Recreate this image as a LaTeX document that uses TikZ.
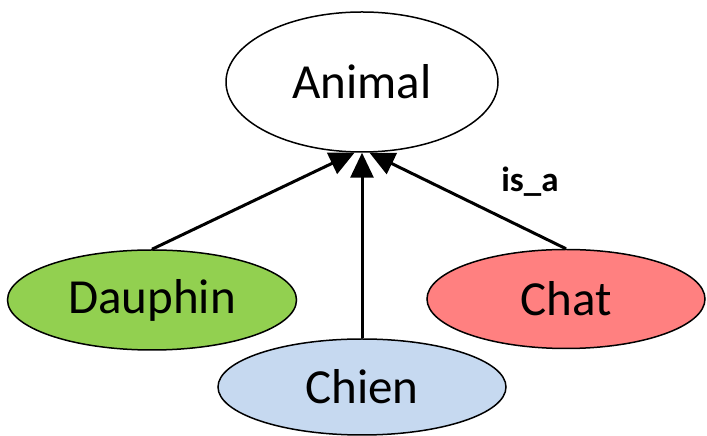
\documentclass[tikz,border=0pt]{standalone}
\usepackage{fontspec}
\setmainfont{Carlito}
\usetikzlibrary{shapes.geometric,arrows.meta}
\definecolor{dauphingreen}{RGB}{146,208,80}
\definecolor{chatred}{RGB}{255,128,128}
\definecolor{chienblue}{RGB}{198,217,240}
\begin{document}
\begin{tikzpicture}[
    x=1pt, y=1pt,
    concept/.style={ellipse, draw, line width=1.5pt, inner sep=0pt, font=\fontsize{49}{58}\selectfont},
    isa/.style={-{Triangle[length=25pt,width=23pt]}, line width=3pt}
    ]
	\useasboundingbox (0,0) rectangle (707,436);
	\node [concept, minimum width=272pt, minimum height=140pt] (animal) at (362,354) {Animal};
	\node [concept, fill=dauphingreen, minimum width=289pt, minimum height=100pt] (dauphin) at (152,136) {Dauphin};
	\node [concept, fill=chienblue, minimum width=288pt, minimum height=96pt] (chien) at (362,49) {Chien};
	\node [concept, fill=chatred, minimum width=278pt, minimum height=99pt] (chat) at (566,137) {Chat};
	% subclass links
	\draw [isa] (dauphin.north) -- (animal.-96);
	\draw [isa] (chien.north) -- (animal.south);
	\draw [isa] (chat.north) -- (animal.-84);
	\node [font=\fontsize{35}{42}\selectfont\bfseries] (isalabel) at (530,254) {is\_a};
\end{tikzpicture}
\end{document}
